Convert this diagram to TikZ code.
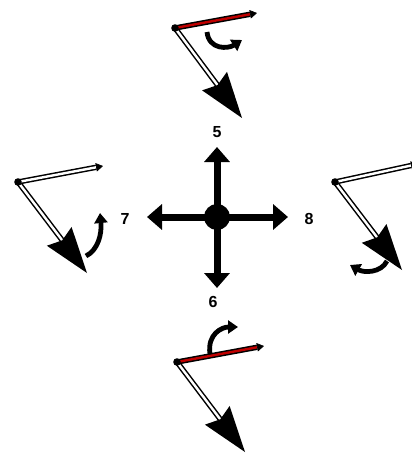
\documentclass[tikz,border=0pt]{standalone}
\usepackage{fontspec}
\setmainfont{Liberation Sans}
\usetikzlibrary{calc,arrows.meta}
\tikzset{
  dbl/.style={line width=1.5pt, double=#1, double distance=2.4pt},
  cross/.style={line width=7pt, -{Triangle[length=15pt,width=25pt]}},
  turn/.style={line width=4.8pt, -{Triangle[length=10pt,width=13pt]}},
  lbl/.style={font=\bfseries\fontsize{16}{16}\selectfont, inner sep=0pt},
}
\newcommand{\limb}[5]{%
  \coordinate (#1J) at #2; \coordinate (#1B) at #3; \coordinate (#1T) at #4;
  \coordinate (#1C) at ($(#1T)!46pt!(#1J)$);
  \coordinate (#1L) at ($(#1C)!15.5pt!90:(#1T)$);
  \coordinate (#1R) at ($(#1C)!15.5pt!-90:(#1T)$);
  \coordinate (#1K) at ($(#1C)!5pt!(#1T)$);
  \coordinate (#1E) at ($(#1B)!7pt!(#1J)$);
  \draw[dbl=white] (#1J) -- (#1K);
  \fill (#1T) -- (#1L) -- (#1K) -- (#1R) -- cycle;
  \draw[dbl=#5] (#1J) -- (#1E);
  \draw[line width=0.6pt, fill, -{Triangle[length=7pt,width=8.5pt]}] (#1E) -- (#1B);
  \fill (#1J) circle (3.8pt);
}
\begin{document}
\begin{tikzpicture}[x=1pt,y=-1pt]
\useasboundingbox (0,0) rectangle (412,455);
% centre cross
\coordinate (O) at (217,217);
\coordinate (up) at (217,147);
\coordinate (dn) at (217,288);
\coordinate (lf) at (147,217);
\coordinate (rt) at (288,217);
\draw[cross] (O) -- (up);
\draw[cross] (O) -- (dn);
\draw[cross] (O) -- (lf);
\draw[cross] (O) -- (rt);
\fill (O) circle (13pt);
\node[lbl] (l5) at (217,132) {5};
\node[lbl] (l6) at (213,302) {6};
\node[lbl] (l7) at (125,219) {7};
\node[lbl] (l8) at (309,219) {8};
% limbs
\limb{t}{(175,28)}{(257,13)}{(242,118)}{red!75!black}
\limb{l}{(18,182)}{(103,166)}{(87,273)}{white}
\limb{r}{(335,182)}{(418,164)}{(402,270)}{white}
\limb{b}{(177,362)}{(264,346)}{(245,452)}{red!75!black}
% turning arrows
\coordinate (ta) at (207,32); \coordinate (tb) at (242,40);
\draw[turn] (ta) .. controls (209,50) and (228,49) .. (tb);
\coordinate (la) at (86,256); \coordinate (lb) at (100,213);
\draw[turn] (la) .. controls (98,250) and (102,234) .. (lb);
\coordinate (ra) at (387,261); \coordinate (rb) at (350,265);
\draw[turn] (ra) .. controls (381,273) and (364,273) .. (rb);
\coordinate (ba) at (210,354); \coordinate (bb) at (238,327);
\draw[turn] (ba) .. controls (207,334) and (222,327) .. (bb);
\end{tikzpicture}
\end{document}
